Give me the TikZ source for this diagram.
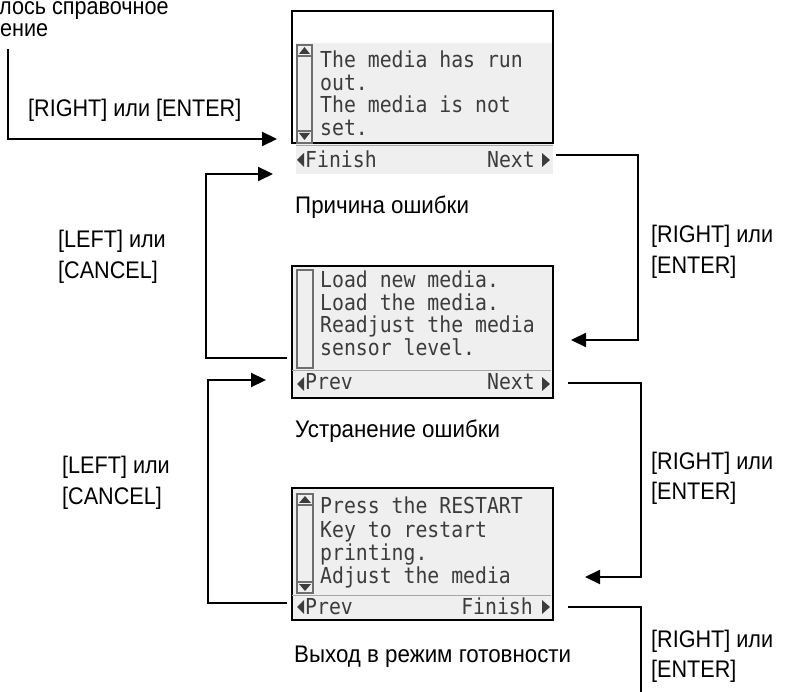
\documentclass[tikz,border=0pt]{standalone}
\usepackage{fontspec}
\setmainfont{Liberation Sans}[FakeStretch=0.9]
\newfontfamily\capfont{Liberation Sans}[FakeStretch=0.93]
\newfontfamily\lcdfont{DejaVu Sans Mono}[FakeStretch=0.9]
\usetikzlibrary{arrows.meta}
\definecolor{lcdbg}{HTML}{EFEFEF}
\definecolor{lcdink}{HTML}{3C3C3C}
\definecolor{sbar}{HTML}{6E6E6E}
\begin{document}
\begin{tikzpicture}[x=1pt,y=-1pt,
  conn/.style={line width=2.2pt},
  arr/.style={conn,-{Triangle[length=15pt,width=14pt]}},
  lbl/.style={font=\fontsize{24}{29}\selectfont, anchor=base west, inner sep=0pt},
  caplbl/.style={font=\capfont\fontsize{24}{29}\selectfont, anchor=base west, inner sep=0pt},
  lcdtxt/.style={font=\lcdfont\fontsize{22}{22.5}\selectfont, text=lcdink, anchor=base west, inner sep=0pt},
  scrbox/.style={draw=black, line width=1.6pt, rectangle, inner sep=0pt, anchor=north west},
  sb/.style={draw=sbar, line width=1.2pt},
  sep/.style={draw=gray!70, line width=1pt},
  tri/.style={fill=lcdink},
]
\useasboundingbox (0,0) rectangle (785,692);

% ---------- top-left text ----------
\node[lbl] (intro1) at (-1,15) {лось справочное};
\node[lbl] (intro2) at (0,37) {ение};

% ---------- screen 1 ----------
\fill[lcdbg] (296,43) rectangle (553,174);
\node[scrbox, minimum width=261pt, minimum height=132pt] (s1) at (291,10) {};
\draw[sb] (297,45) rectangle (312,143);
\draw[sb] (297,56) -- (312,56);
\draw[sb] (297,131) -- (312,131);
\fill[tri] (299,54) -- (310,54) -- (304.5,47) -- cycle;
\fill[tri] (299,133) -- (310,133) -- (304.5,140) -- cycle;
\node[lcdtxt] (s1l1) at (320,68) {The media has run};
\node[lcdtxt] (s1l2) at (320,90.5) {out.};
\node[lcdtxt] (s1l3) at (320,113) {The media is not};
\node[lcdtxt] (s1l4) at (320,135.5) {set.};
\draw[sep] (296,146) -- (553,146);
\fill[tri] (304,153) -- (304,167) -- (297,160) -- cycle;
\node[lcdtxt] (s1f1) at (305,168) {Finish};
\node[lcdtxt, anchor=base east] (s1f2) at (535,168) {Next};
\fill[tri] (542,153) -- (542,167) -- (550,160) -- cycle;

% ---------- screen 2 ----------
\node[scrbox, fill=lcdbg, minimum width=261pt, minimum height=132pt] (s2) at (291,265) {};
\draw[sb] (297,270) rectangle (313,368);
\node[lcdtxt] (s2l1) at (320,288) {Load new media.};
\node[lcdtxt] (s2l2) at (320,310.5) {Load the media.};
\node[lcdtxt] (s2l3) at (320,333) {Readjust the media};
\node[lcdtxt] (s2l4) at (320,355.5) {sensor level.};
\draw[sep] (292,371) -- (551,371);
\fill[tri] (304,377) -- (304,391) -- (297,384) -- cycle;
\node[lcdtxt] (s2f1) at (305,390) {Prev};
\node[lcdtxt, anchor=base east] (s2f2) at (535,390) {Next};
\fill[tri] (542,377) -- (542,391) -- (550,384) -- cycle;

% ---------- screen 3 ----------
\node[scrbox, fill=lcdbg, minimum width=261pt, minimum height=132pt] (s3) at (291,487) {};
\draw[sb] (297,494) rectangle (313,593);
\draw[sb] (297,505) -- (313,505);
\draw[sb] (297,582) -- (313,582);
\fill[tri] (299,503) -- (311,503) -- (305,496) -- cycle;
\fill[tri] (299,584) -- (311,584) -- (305,591) -- cycle;
\node[lcdtxt] (s3l1) at (320,514) {Press the RESTART};
\node[lcdtxt] (s3l2) at (320,537) {Key to restart};
\node[lcdtxt] (s3l3) at (320,560) {printing.};
\node[lcdtxt] (s3l4) at (320,583) {Adjust the media};
\draw[sep] (292,595) -- (551,595);
\fill[tri] (304,600) -- (304,614) -- (297,607) -- cycle;
\node[lcdtxt] (s3f1) at (305,614) {Prev};
\node[lcdtxt, anchor=base east] (s3f2) at (533,614) {Finish};
\fill[tri] (542,600) -- (542,614) -- (550,607) -- cycle;

% ---------- captions ----------
\node[caplbl] (c1) at (295,214) {Причина ошибки};
\node[caplbl] (c2) at (295,438) {Устранение ошибки};
\node[caplbl] (c3) at (294,662) {Выход в режим готовности};

% ---------- connector labels ----------
\node[lbl] (la) at (28,117) {[RIGHT] или [ENTER]};
\node[lbl] (lb1) at (58,248) {[LEFT] или};
\node[lbl] (lb2) at (58,279) {[CANCEL]};
\node[lbl] (lc1) at (62,474) {[LEFT] или};
\node[lbl] (lc2) at (62,505) {[CANCEL]};
\node[lbl] (ld1) at (651,243) {[RIGHT] или};
\node[lbl] (ld2) at (651,274) {[ENTER]};
\node[lbl] (le1) at (651,470) {[RIGHT] или};
\node[lbl] (le2) at (651,500) {[ENTER]};
\node[lbl] (lf1) at (651,647) {[RIGHT] или};
\node[lbl] (lf2) at (651,677) {[ENTER]};

% ---------- connectors ----------
\coordinate (a0) at (8,49);
\coordinate (a1) at (277,139);
\draw[arr] (a0) |- (a1);

\coordinate (b0) at (287,358);
\coordinate (b1) at (206,174);
\coordinate (b2) at (273,174);
\draw[arr] (b0) -| (b1) -- (b2);

\coordinate (c0) at (287,603);
\coordinate (c1p) at (208,380);
\coordinate (c2p) at (266,380);
\draw[arr] (c0) -| (c1p) -- (c2p);

\coordinate (d0) at (556,155);
\coordinate (d1) at (638,340);
\coordinate (d2) at (571,340);
\draw[arr] (d0) -| (d1) -- (d2);

\coordinate (e0) at (568,383);
\coordinate (e1) at (641,577);
\coordinate (e2) at (585,577);
\draw[arr] (e0) -| (e1) -- (e2);

\coordinate (f0) at (568,607);
\coordinate (f1) at (641,692);
\draw[conn] (f0) -| (f1);
\end{tikzpicture}
\end{document}
